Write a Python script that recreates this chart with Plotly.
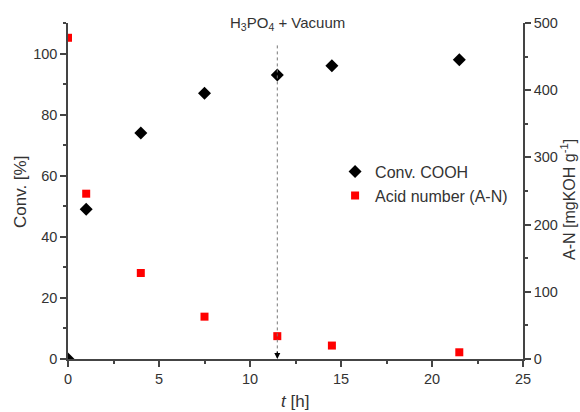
import plotly.graph_objects as go

t_conv = [0, 1, 4, 7.5, 11.5, 14.5, 21.5]
conv = [0, 49, 74, 87, 93, 96, 98]
t_an = [0, 1, 4, 7.5, 11.5, 14.5, 21.5]
acid_number = [478, 246, 128, 63, 34, 20, 10]

x_ticks = [0, 5, 10, 15, 20, 25]
y_ticks = [0, 20, 40, 60, 80, 100]
y2_ticks = [0, 100, 200, 300, 400, 500]

event_t = 11.5
event_label = "H<sub>3</sub>PO<sub>4</sub> + Vacuum"

font_family = "Liberation Sans, Arial, sans-serif"
txt = "#333333"
axc = "#444444"

fig = go.Figure()
fig.add_trace(go.Scatter(x=t_conv, y=conv, mode="markers", name="Conv. COOH",
                         marker=dict(symbol="diamond", size=10, color="black"),
                         yaxis="y"))
fig.add_trace(go.Scatter(x=t_an, y=acid_number, mode="markers", name="Acid number (A-N)",
                         marker=dict(symbol="square", size=8, color="#ff0000"),
                         yaxis="y2"))

fig.add_shape(type="line", xref="x", yref="y", x0=event_t, x1=event_t, y0=1.5, y1=103.5,
              line=dict(color="#777777", width=1, dash="dot"))
fig.add_annotation(x=event_t, y=0, xref="x", yref="y", ax=0, ay=-9, axref="pixel", ayref="pixel",
                   showarrow=True, arrowhead=2, arrowsize=1, arrowwidth=1.2, arrowcolor="black", text="")
fig.add_annotation(x=event_t, y=1.0, xref="x", yref="paper", xanchor="center", yanchor="bottom",
                   showarrow=False, text=event_label, font=dict(size=15, color=txt, family=font_family),
                   yshift=-12, xshift=10)

# axis titles as annotations (exact placement, pixel positions converted below)
fig.add_annotation(x=20, y=192, text="Conv. [%]", textangle=-90)
fig.add_annotation(x=568, y=200, text="A-N [mgKOH g<sup>-1</sup>]", textangle=-90)
fig.add_annotation(x=295, y=401, text="<i>t</i> [h]")

W, H = 580, 412
L, R, T, B = 68, 57, 23, 53
pw, ph = W - L - R, H - T - B
title_sizes = [17, 16, 17]
for a, fs in zip(fig.layout.annotations[2:], title_sizes):
    px, py = a.x, a.y
    a.x = (px - L) / pw
    a.y = (H - B - py) / ph
    a.xref = "paper"
    a.yref = "paper"
    a.xanchor = "center"
    a.yanchor = "middle"
    a.showarrow = False
    a.font = dict(size=fs, color=txt, family=font_family)

tick_font = dict(size=14.5, color=txt, family=font_family)
fig.update_layout(
    width=W, height=H,
    margin=dict(l=L, r=R, t=T, b=B),
    plot_bgcolor="white", paper_bgcolor="white",
    font=dict(family=font_family, size=15, color=txt),
    showlegend=True,
    legend=dict(x=0.587, y=0.608, xanchor="left", yanchor="top", bgcolor="rgba(0,0,0,0)",
                font=dict(size=16, color=txt), itemwidth=30, tracegroupgap=0),
    xaxis=dict(range=[0, 25], tickvals=x_ticks, ticks="outside", ticklen=6, tickwidth=1.5,
               tickcolor=axc, showline=True, linecolor=axc, linewidth=1.5, showgrid=False,
               zeroline=False, automargin=False, tickfont=tick_font,
               minor=dict(dtick=2.5, ticks="outside", ticklen=3, tickcolor=axc, tickwidth=1.5)),
    yaxis=dict(range=[0, 110], tickvals=y_ticks, ticks="outside", ticklen=6, tickwidth=1.5,
               tickcolor=axc, showline=True, linecolor=axc, linewidth=1.5, showgrid=False,
               zeroline=False, automargin=False, tickfont=tick_font,
               minor=dict(dtick=10, ticks="outside", ticklen=3, tickcolor=axc, tickwidth=1.5)),
    yaxis2=dict(range=[0, 500], tickvals=y2_ticks, ticks="outside", ticklen=6, tickwidth=1.5,
                tickcolor=axc, showline=True, linecolor=axc, linewidth=1.5, showgrid=False,
                zeroline=False, overlaying="y", side="right", automargin=False, tickfont=tick_font,
                minor=dict(dtick=50, ticks="outside", ticklen=3, tickcolor=axc, tickwidth=1.5)),
)

fig.write_html("out.html", config={"displayModeBar": False},
               post_script="document.body.style.margin='0';document.body.style.padding='0';")
